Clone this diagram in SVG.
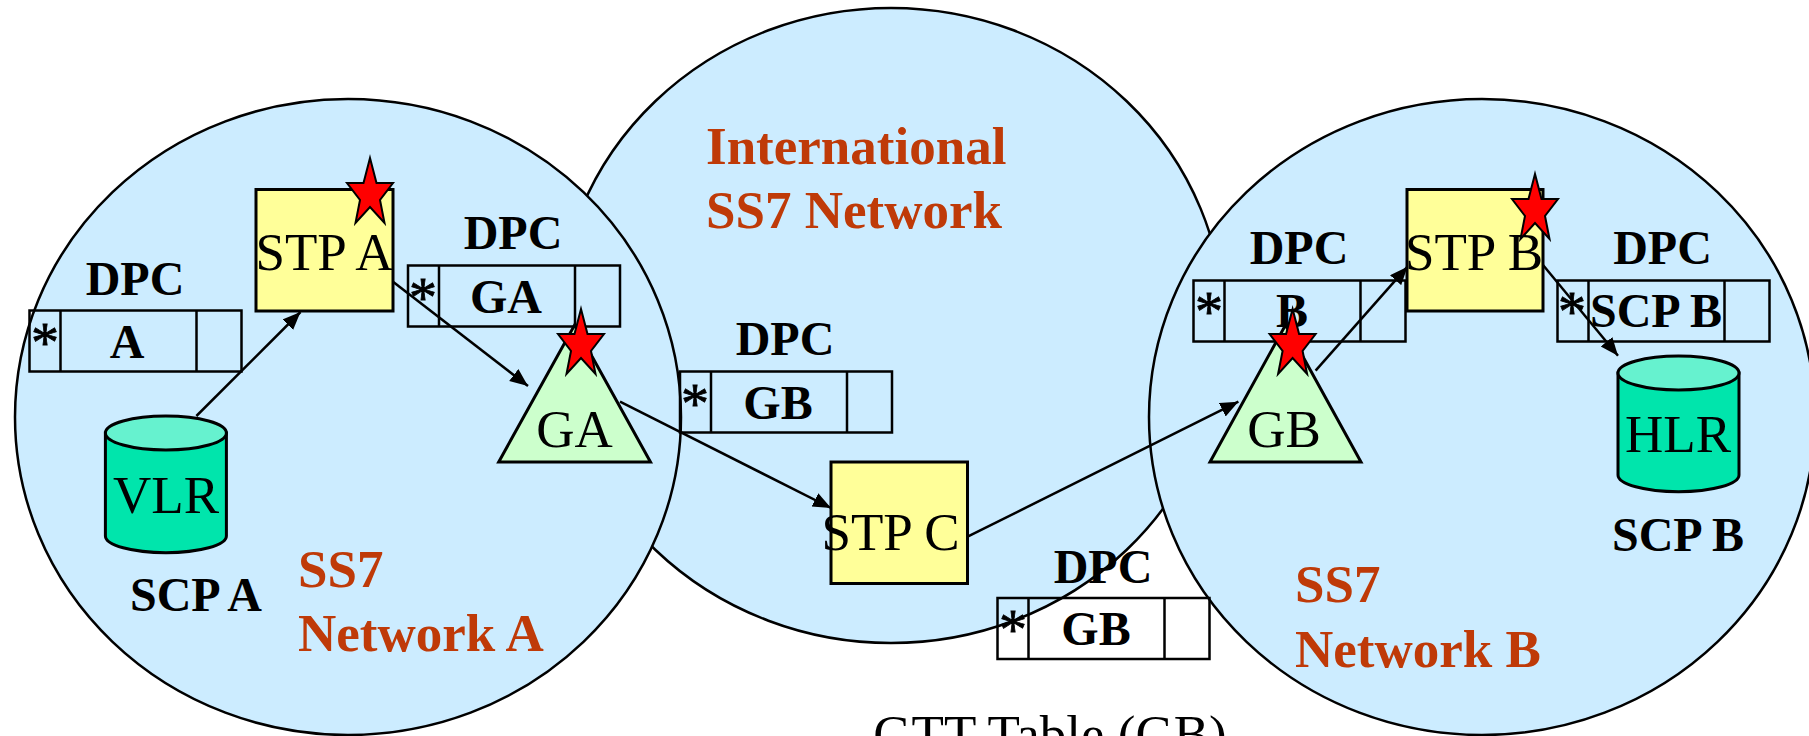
<svg xmlns="http://www.w3.org/2000/svg" xmlns:xlink="http://www.w3.org/1999/xlink" width="1809" height="736" viewBox="0 0 1809 736">
<style>
text{font-family:"Liberation Serif","Times New Roman",serif;fill:#000}
.net{fill:#CCECFF;stroke:#000;stroke-width:2.5}
.box{fill:#FFFF99;stroke:#000;stroke-width:3}
.tri{fill:#CCFFCC;stroke:#000;stroke-width:3}
.cyl{fill:#00E5AC;stroke:#000;stroke-width:3}
.cyltop{fill:#66F2CF;stroke:#000;stroke-width:3}
.star{fill:#FF0000;stroke:#000;stroke-width:2}
.cell{fill:none;stroke:#000;stroke-width:2.5}
.n{font-size:53px;text-anchor:middle}
.b{font-size:48px;font-weight:bold;text-anchor:middle}
.a{font-size:56px;text-anchor:middle;stroke:#000;stroke-width:.8}
.t{font-size:53px;font-weight:bold;fill:#BF3A08}
.link{fill:none;stroke:#000;stroke-width:2.5;marker-end:url(#arr)}
</style>
<defs>
<marker id="arr" markerUnits="userSpaceOnUse" markerWidth="20" markerHeight="16" refX="18" refY="7.5" orient="auto"><path d="M0 0L18 7.5L0 15z" fill="#000"/></marker>
<polygon id="star" class="star" points="0,0 6.5,25 23,25 10,42 14.5,65 0,49 -14.5,65 -10,42 -23,25 -6.5,25"/>
<g id="cells"><path class="cell" d="M0 0H212V61H0zM31 0V61M167 0V61"/></g>
</defs>

<g id="net-intl"><ellipse class="net" cx="891" cy="325.5" rx="333" ry="317.5"/><text class="t" x="706" y="164">International</text><text class="t" x="706" y="228">SS7 Network</text></g>
<g id="net-a"><ellipse class="net" cx="348" cy="417" rx="333" ry="318"/><text class="t" x="298" y="587">SS7</text><text class="t" x="298" y="651">Network A</text></g>
<g id="net-b"><ellipse class="net" cx="1482" cy="417" rx="333" ry="318"/><text class="t" x="1295" y="602">SS7</text><text class="t" x="1295" y="667">Network B</text></g>

<g id="connectors">
<line class="link" x1="196.4" y1="416" x2="300.5" y2="312"/>
<line class="link" x1="393" y1="281.7" x2="528" y2="386"/>
<line class="link" x1="620" y1="401.7" x2="831" y2="508"/>
<line class="link" x1="967.6" y1="536.7" x2="1238.4" y2="401.7"/>
<line class="link" x1="1315.6" y1="370.7" x2="1407.5" y2="266.7"/>
<line class="link" x1="1543" y1="265" x2="1618" y2="355.7"/>
</g>

<g id="table-a"><use xlink:href="#cells" href="#cells" transform="translate(29.5 310.5)"/><text class="b" x="135" y="295">DPC</text><text class="a" x="45" y="362">*</text><text class="b" x="127" y="358">A</text></g>
<g id="table-ga"><use xlink:href="#cells" href="#cells" transform="translate(408 265.5)"/><text class="b" x="513" y="249">DPC</text><text class="a" x="423" y="317">*</text><text class="b" x="506" y="313">GA</text></g>
<g id="table-gb1"><use xlink:href="#cells" href="#cells" transform="translate(680 371.5)"/><text class="b" x="785" y="355">DPC</text><text class="a" x="695" y="423">*</text><text class="b" x="778" y="419">GB</text></g>
<g id="table-gb2"><use xlink:href="#cells" href="#cells" transform="translate(997.5 598)"/><text class="b" x="1103" y="582.7">DPC</text><text class="a" x="1013" y="649">*</text><text class="b" x="1096" y="645">GB</text></g>
<g id="table-b"><use xlink:href="#cells" href="#cells" transform="translate(1193.5 280.5)"/><text class="b" x="1299" y="264">DPC</text><text class="a" x="1209" y="331">*</text><text class="b" x="1292" y="327">B</text></g>
<g id="table-scpb"><use xlink:href="#cells" href="#cells" transform="translate(1557.5 280.5)"/><text class="b" x="1662.5" y="264">DPC</text><text class="a" x="1572" y="331">*</text><text class="b" x="1656" y="327">SCP B</text></g>

<g id="stp-a"><rect class="box" x="256" y="189.5" width="137" height="121.5"/><text class="n" x="324.5" y="270">STP A</text><use xlink:href="#star" href="#star" x="370" y="158"/></g>
<g id="stp-b"><rect class="box" x="1407" y="189.5" width="136" height="121.5"/><text class="n" x="1474" y="270">STP B</text><use xlink:href="#star" href="#star" x="1535" y="174"/></g>
<g id="stp-c"><rect class="box" x="831" y="462" width="136.5" height="121.5"/><text class="n" x="890.5" y="550">STP C</text></g>
<g id="ga"><polygon class="tri" points="574.6,325 650.5,462 498.7,462"/><text class="n" x="574.6" y="447">GA</text><use xlink:href="#star" href="#star" x="581" y="309"/></g>
<g id="gb"><polygon class="tri" points="1285.5,325 1361,462 1210,462"/><text class="n" x="1284" y="447">GB</text><use xlink:href="#star" href="#star" x="1292.6" y="309"/></g>
<g id="vlr"><path class="cyl" d="M105.4 433V536A60.5 16.7 0 0 0 226.4 536V433z"/><ellipse class="cyltop" cx="165.9" cy="433" rx="60.5" ry="17"/><text class="n" x="166" y="513">VLR</text><text class="b" x="196" y="611">SCP A</text></g>
<g id="hlr"><path class="cyl" d="M1618 373V475A60.5 16.7 0 0 0 1739 475V373z"/><ellipse class="cyltop" cx="1678.5" cy="373" rx="60.5" ry="17"/><text class="n" x="1678" y="452">HLR</text><text class="b" x="1678" y="551">SCP B</text></g>
<text class="n" x="1050" y="752">GTT Table (GB)</text>
</svg>
